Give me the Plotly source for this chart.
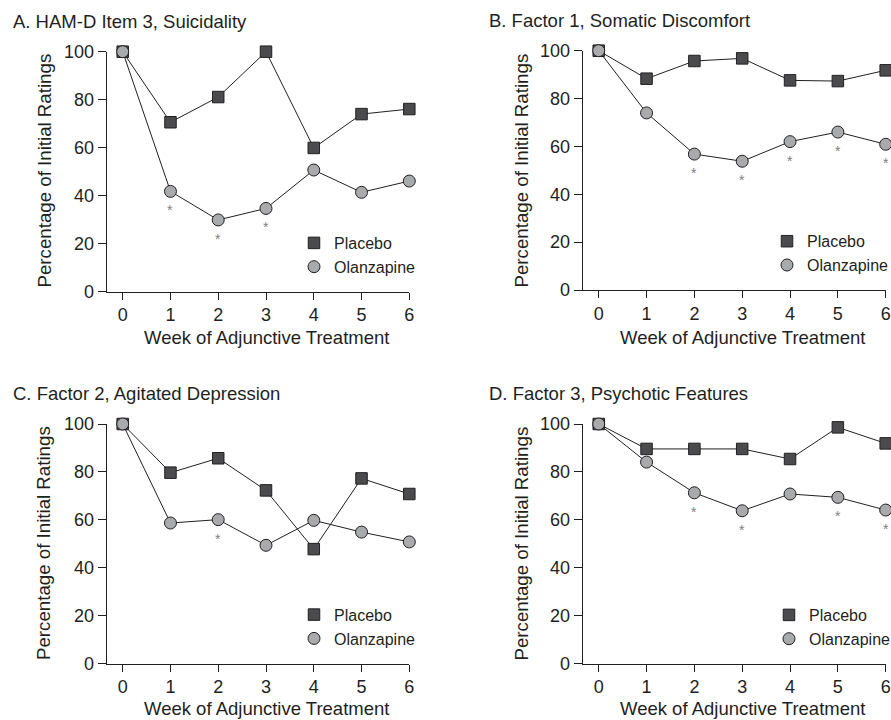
import plotly.graph_objects as go

# ---------------- data ----------------
weeks = [0, 1, 2, 3, 4, 5, 6]
y_ticks = [0, 20, 40, 60, 80, 100]
panel_titles = [
    "A. HAM-D Item 3, Suicidality",
    "B. Factor 1, Somatic Discomfort",
    "C. Factor 2, Agitated Depression",
    "D. Factor 3, Psychotic Features",
]
series_names = ["Placebo", "Olanzapine"]

placebo_a = [100, 70.6, 81.1, 100, 59.9, 74.0, 76.1]
olanzapine_a = [100, 41.8, 29.9, 34.7, 50.7, 41.4, 46.1]
sig_a = [1, 2, 3]

placebo_b = [100, 88.3, 95.7, 96.8, 87.6, 87.3, 91.8]
olanzapine_b = [100, 74.0, 56.8, 53.8, 62.0, 66.0, 60.9]
sig_b = [2, 3, 4, 5, 6]

placebo_c = [100, 79.7, 85.7, 72.3, 47.8, 77.3, 70.8]
olanzapine_c = [100, 58.7, 60.1, 49.4, 59.8, 54.9, 50.8]
sig_c = [2]

placebo_d = [100, 89.6, 89.6, 89.6, 85.4, 98.6, 91.9]
olanzapine_d = [100, 84.1, 71.3, 63.8, 70.8, 69.4, 64.1]
sig_d = [2, 3, 5, 6]

x_axis_title = "Week of Adjunctive Treatment"
y_axis_title = "Percentage of Initial Ratings"

# ---------------- style ----------------
W, H = 891, 720
FONT = "Liberation Sans, Arial, Helvetica, sans-serif"
INK = "#231f20"
SQ_FILL = "#4b4b4d"
CI_FILL = "#a9aaac"

panels = [
    (placebo_a, olanzapine_a, sig_a),
    (placebo_b, olanzapine_b, sig_b),
    (placebo_c, olanzapine_c, sig_c),
    (placebo_d, olanzapine_d, sig_d),
]

# pixel geometry of each panel: (x_axis_left, x_axis_right, y_top, y_bottom)
geom = [
    (106.7, 409.3, 51.7, 291.7),
    (582.7, 885.7, 50.7, 290.0),
    (106.7, 409.3, 424.0, 663.7),
    (582.7, 885.7, 424.0, 663.7),
]
title_pos = [(11, 21.5), (486.5, 20.5), (11, 393.5), (487, 393.5)]
ytitle_pos = [(43.5, 171), (521, 170.5), (43.5, 543.5), (521, 543.5)]
xtitle_pos = [(266, 337.5), (742.5, 337), (266, 708.5), (742.5, 708.5)]
legend_pos = [(294, 255), (767, 253.3), (294, 626.7), (769, 627)]

fig = go.Figure()
annotations = []
layout_extra = {}

for i, (plac, olan, sig) in enumerate(panels):
    n = "" if i == 0 else str(i + 1)
    xa, ya = "x" + n, "y" + n
    leg = "legend" + n
    # connecting lines
    fig.add_trace(go.Scatter(x=weeks, y=plac, mode="lines", line=dict(color=INK, width=1),
                             showlegend=False, hoverinfo="skip", cliponaxis=False, xaxis=xa, yaxis=ya))
    fig.add_trace(go.Scatter(x=weeks, y=olan, mode="lines", line=dict(color=INK, width=1),
                             showlegend=False, hoverinfo="skip", cliponaxis=False, xaxis=xa, yaxis=ya))
    # markers
    fig.add_trace(go.Scatter(x=weeks, y=plac, mode="markers", name=series_names[0],
                             marker=dict(symbol="square", size=11.5, color=SQ_FILL,
                                         line=dict(color=INK, width=1)),
                             cliponaxis=False, xaxis=xa, yaxis=ya, legend=leg))
    fig.add_trace(go.Scatter(x=weeks, y=olan, mode="markers", name=series_names[1],
                             marker=dict(symbol="circle", size=12, color=CI_FILL,
                                         line=dict(color=INK, width=1)),
                             cliponaxis=False, xaxis=xa, yaxis=ya, legend=leg))
    # significance asterisks
    for w in sig:
        annotations.append(dict(x=w, y=olan[weeks.index(w)], xref=xa, yref=ya, text="*",
                                showarrow=False, yshift=-19,
                                font=dict(family=FONT, size=14, color="#808082")))

    x0, x1, yt, yb = geom[i]
    layout_extra["xaxis" + n] = dict(
        domain=[x0 / W, x1 / W], range=[-0.335, 6], anchor=ya,
        tickvals=weeks, ticks="outside", ticklen=7, tickwidth=1, tickcolor=INK,
        showline=True, linecolor=INK, linewidth=1.2, showgrid=False, zeroline=False,
        tickfont=dict(family=FONT, size=18, color=INK), fixedrange=True)
    layout_extra["yaxis" + n] = dict(
        domain=[(H - yb) / H, (H - yt) / H], range=[0, 100], anchor=xa,
        tickvals=y_ticks, ticks="outside", ticklen=8, tickwidth=1, tickcolor=INK,
        showline=True, linecolor=INK, linewidth=1.2, showgrid=False, zeroline=False,
        tickfont=dict(family=FONT, size=18, color=INK), fixedrange=True)

    lx, ly = legend_pos[i]
    layout_extra[leg] = dict(
        x=lx / W, y=(H - ly) / H, xanchor="left", yanchor="middle",
        bgcolor="rgba(0,0,0,0)", borderwidth=0,
        font=dict(family=FONT, size=16, color=INK),
        itemwidth=30, tracegroupgap=0)

    tx, ty = title_pos[i]
    annotations.append(dict(x=tx / W, y=(H - ty) / H, xref="paper", yref="paper",
                            xanchor="left", yanchor="middle", showarrow=False,
                            text=panel_titles[i], font=dict(family=FONT, size=18.5, color=INK)))
    yx, yy = ytitle_pos[i]
    annotations.append(dict(x=yx / W, y=(H - yy) / H, xref="paper", yref="paper",
                            xanchor="center", yanchor="middle", showarrow=False, textangle=-90,
                            text=y_axis_title, font=dict(family=FONT, size=18.7, color=INK)))
    xx, xy = xtitle_pos[i]
    annotations.append(dict(x=xx / W, y=(H - xy) / H, xref="paper", yref="paper",
                            xanchor="center", yanchor="middle", showarrow=False,
                            text=x_axis_title, font=dict(family=FONT, size=18.5, color=INK)))

fig.update_layout(
    width=W, height=H,
    margin=dict(l=0, r=0, t=0, b=0, autoexpand=False),
    paper_bgcolor="white", plot_bgcolor="white",
    font=dict(family=FONT, color=INK),
    annotations=annotations,
    hovermode=False,
    **layout_extra,
)

fig.write_html("out.html", config={"displayModeBar": False},
               post_script="document.body.style.margin='0';document.body.style.overflow='hidden';")
